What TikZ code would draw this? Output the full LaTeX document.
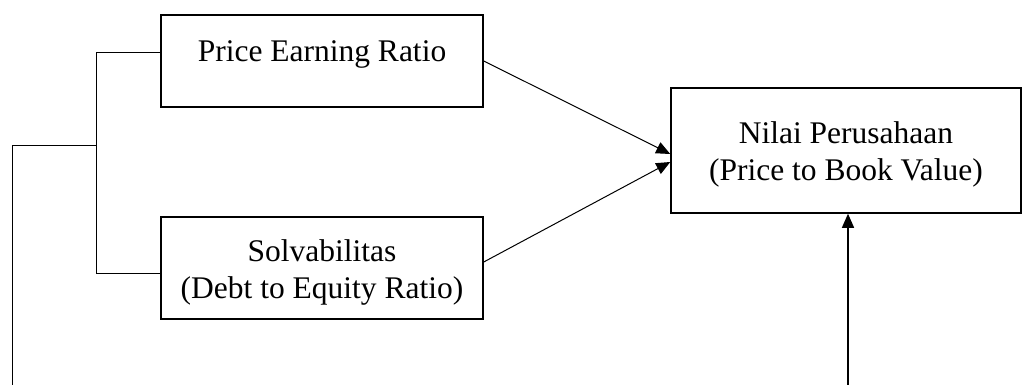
\documentclass[tikz,border=0pt]{standalone}
\usepackage{fontspec}
\setmainfont{Liberation Serif}
\usetikzlibrary{arrows.meta}

\begin{document}
\begin{tikzpicture}[
        x=1pt, y=-1pt,
        var/.style = {draw, line width=1.5pt, inner sep=0pt, align=center,
                      font=\fontsize{31.5}{36.5}\selectfont},
        link/.style = {line width=1pt},
        arr/.style = {link, -{Triangle[length=14pt,width=12pt]}}
    ]
        \useasboundingbox (0,0) rectangle (1022,385);
        % variables
        \node[var, minimum width=322pt, minimum height=92pt,
              text height=22pt, text depth=20pt] (per) at (322,61)
            {Price Earning Ratio};
        \node[var, minimum width=322pt, minimum height=102pt,
              text height=70pt, text depth=10pt] (der) at (322,268)
            {Solvabilitas\\(Debt to Equity Ratio)};
        \node[var, minimum width=350pt, minimum height=125pt,
              text height=70pt, text depth=11pt] (pbv) at (846,150.5)
            {Nilai Perusahaan\\(Price to Book Value)};
        % bracket on the left
        \coordinate (brTop) at (96,53);
        \coordinate (brBot) at (96,273);
        \coordinate (brMid) at (96,145);
        \coordinate (leftTop) at (12,145);
        \coordinate (leftEnd) at (12,385);
        \draw[link] (per.west |- brTop) -- (brTop) -- (brBot) -- (der.west |- brBot);
        \draw[link] (brMid) -- (leftTop) -- (leftEnd);
        % arrows into the dependent variable
        \draw[arr] (per.east) -- ([yshift=-3.5pt]pbv.west);
        \draw[arr] ([yshift=6pt]der.east) -- ([yshift=-11.5pt]pbv.west);
        \coordinate (upStart) at (848,385);
        \draw[arr, line width=1.3pt] (upStart) -- (upStart |- pbv.south);
\end{tikzpicture}
\end{document}
